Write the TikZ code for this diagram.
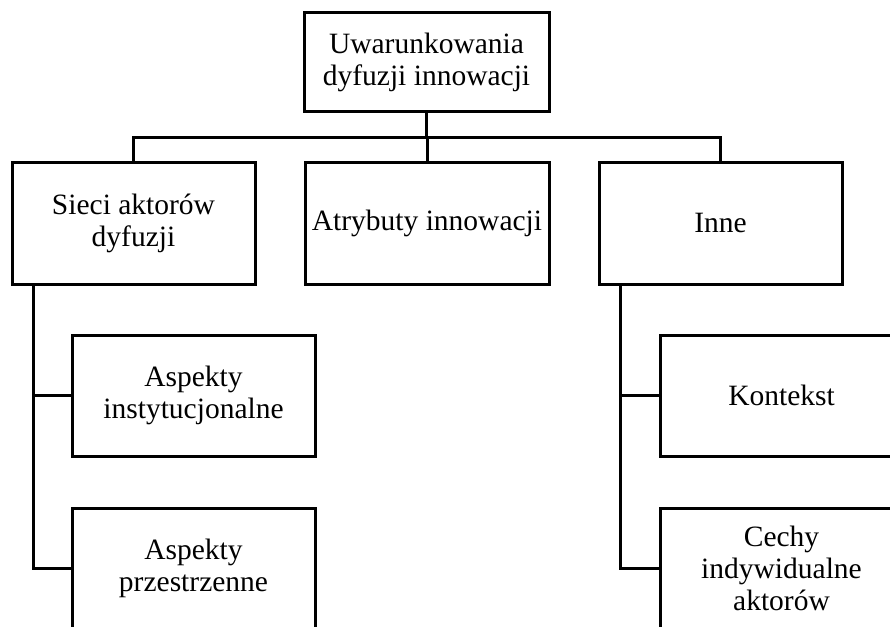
\documentclass[tikz,border=0pt]{standalone}
\usepackage{fontspec}
\setmainfont{Liberation Serif}
\begin{document}
\begin{tikzpicture}[x=1pt,y=1pt,
  box/.style={draw=black,line width=3pt,rectangle,align=center,inner sep=0pt,
    font=\fontsize{29.5}{32}\selectfont},
  link/.style={draw=black,line width=3pt}]
\useasboundingbox (0,0) rectangle (890,-626);
\clip (0,0) rectangle (890,-626);
\fill[white] (0,0) rectangle (890,-626);
\node[box,minimum width=245pt,minimum height=98pt] (top) at (426.5,-62) {Uwarunkowania\\dyfuzji innowacji};
\node[box,minimum width=243pt,minimum height=122pt] (sieci) at (133.5,-223) {Sieci aktorów\\dyfuzji};
\node[box,minimum width=244pt,minimum height=122pt] (atr) at (427,-223) {Atrybuty innowacji};
\node[box,minimum width=243pt,minimum height=122pt] (inne) at (720.5,-223) {Inne};
\node[box,minimum width=243pt,minimum height=121pt] (inst) at (193.5,-395.5) {Aspekty\\instytucjonalne};
\node[box,minimum width=243pt,minimum height=121pt] (przes) at (193.5,-568.5) {Aspekty\\przestrzenne};
\node[box,minimum width=243pt,minimum height=121pt] (kont) at (781.5,-395.5) {Kontekst};
\node[box,minimum width=243pt,minimum height=121pt] (cech) at (781.5,-568.5) {Cechy\\indywidualne\\aktorów};
\coordinate (bar) at (426.5,-137);
\draw[link] (top.south) -- (bar);
\draw[link] (sieci.north) -- (sieci.north |- bar) -- (inne.north |- bar) -- (inne.north);
\draw[link] (atr.north) -- (atr.north |- bar);
\coordinate (lt) at ([xshift=23pt]sieci.south west);
\coordinate (rt) at ([xshift=23pt]inne.south west);
\draw[link] (lt) |- (inst.west);
\draw[link] (lt) |- (przes.west);
\draw[link] (rt) |- (kont.west);
\draw[link] (rt) |- (cech.west);
\end{tikzpicture}
\end{document}
